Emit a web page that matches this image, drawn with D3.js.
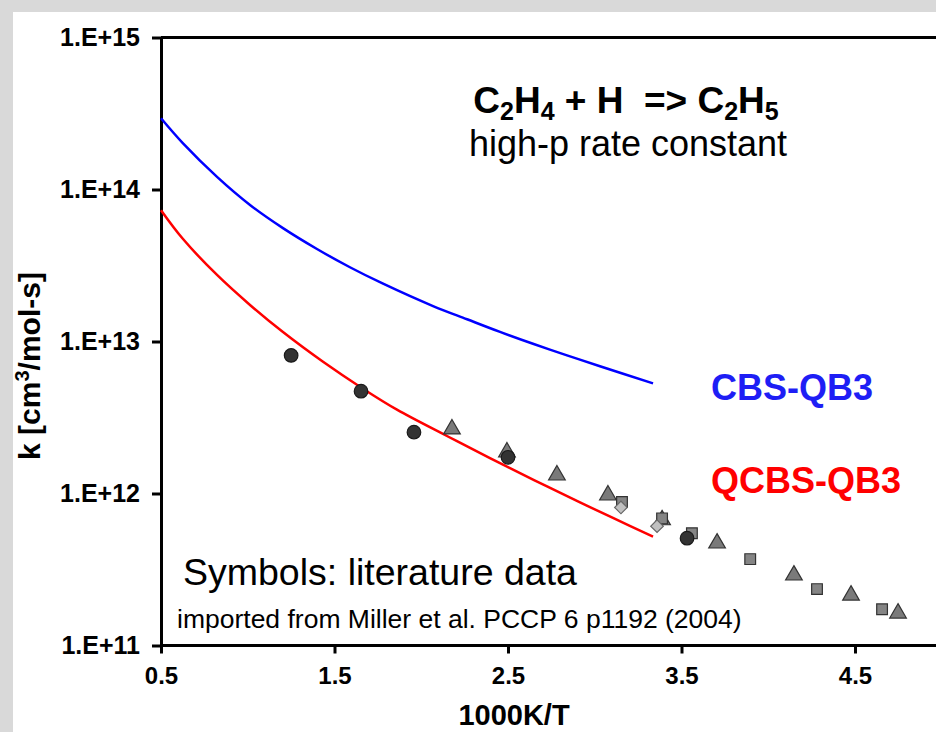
<!DOCTYPE html>
<html><head><meta charset="utf-8">
<script src="https://cdn.jsdelivr.net/npm/d3@7"></script>
<style>
html,body{margin:0;padding:0;background:#d9d9d9;}
svg{display:block;font-family:"Liberation Sans",Arial,Helvetica,sans-serif;}
</style></head>
<body>
<svg id="chart" width="936" height="732"></svg>
<script>
// ---- data ----
const cbsX = [0.5, 0.627, 0.823, 1.013, 1.203, 1.399, 1.589, 1.780, 2.068, 2.264, 2.454, 2.644, 2.840, 3.030, 3.336];
const cbsK = [2.94e14, 2.01e14, 1.21e14, 7.91e13, 5.57e13, 4.06e13, 3.08e13, 2.40e13, 1.71e13, 1.40e13, 1.156e13, 9.66e12, 8.11e12, 6.87e12, 5.30e12];
const qcbsX = [0.5, 0.627, 0.823, 1.013, 1.203, 1.434, 1.664, 1.860, 2.148, 2.396, 2.529, 2.725, 2.915, 3.105, 3.336];
const qcbsK = [7.31e13, 4.72e13, 2.74e13, 1.74e13, 1.153e13, 7.35e12, 4.89e12, 3.56e12, 2.39e12, 1.71e12, 1.435e12, 1.114e12, 8.75e11, 6.90e11, 5.21e11];
const circX = [1.25, 1.653, 1.958, 2.50, 3.532];
const circK = [8.1e12, 4.71e12, 2.53e12, 1.73e12, 5.08e11];
const triX = [2.177, 2.494, 2.782, 3.076, 3.388, 3.705, 4.148, 4.477, 4.748];
const triK = [2.65e12, 1.87e12, 1.32e12, 9.75e11, 6.7e11, 4.71e11, 2.9e11, 2.14e11, 1.63e11];
const sqX = [3.157, 3.388, 3.560, 3.896, 4.281, 4.656];
const sqK = [8.8e11, 6.86e11, 5.48e11, 3.70e11, 2.35e11, 1.73e11];
const diaX = [3.151, 3.359];
const diaK = [8.1e11, 6.1e11];
const xTickValues = [0.5, 1.5, 2.5, 3.5, 4.5];
const xTickLabels = ["0.5", "1.5", "2.5", "3.5", "4.5"];
const yTickValues = [1e11, 1e12, 1e13, 1e14, 1e15];
const yTickLabels = ["1.E+11", "1.E+12", "1.E+13", "1.E+14", "1.E+15"];

const svg = d3.select("#chart");
const FONT = '"Liberation Sans",Arial,Helvetica,sans-serif';

svg.append("rect").attr("x", 13).attr("y", 12).attr("width", 936).attr("height", 732).attr("fill", "#fff");

const x = d3.scaleLinear().domain([0.5, 5.0]).range([161, 161 + 4.5 * 173.5]);
const y = d3.scaleLog().domain([1e11, 1e15]).range([645.5, 37.5]);

// frame top line
svg.append("line").attr("x1", x(0.5)).attr("x2", 936).attr("y1", y(1e15)).attr("y2", y(1e15))
  .attr("stroke", "#000").attr("stroke-width", 3);

// x axis
const gx = svg.append("g").attr("transform", `translate(0,${y(1e11)})`)
  .call(d3.axisBottom(x).tickValues(xTickValues).tickFormat((d, i) => xTickLabels[i]).tickSize(8).tickSizeOuter(0).tickPadding(13));
gx.select(".domain").attr("stroke-width", 3).attr("d", `M${x(0.5)},0H940`);
gx.selectAll(".tick line").attr("stroke-width", 3);
gx.selectAll(".tick text").attr("font-family", FONT).attr("font-size", 24).attr("font-weight", "bold").attr("fill", "#000");

// y axis
const gy = svg.append("g").attr("transform", `translate(${x(0.5)},0)`)
  .call(d3.axisLeft(y).tickValues(yTickValues).tickFormat((d, i) => yTickLabels[i]).tickSize(9).tickSizeOuter(0).tickPadding(12));
gy.select(".domain").attr("stroke-width", 3);
gy.selectAll(".tick line").attr("stroke-width", 3);
gy.selectAll(".tick text").attr("font-family", FONT).attr("font-size", 25).attr("font-weight", "bold").attr("fill", "#000");

// curves
const line = d3.line().x(d => x(d[0])).y(d => y(d[1])).curve(d3.curveCatmullRom.alpha(0.5));
svg.append("path").datum(cbsX.map((v, i) => [v, cbsK[i]])).attr("d", line)
  .attr("fill", "none").attr("stroke", "#0000ff").attr("stroke-width", 2.5);
svg.append("path").datum(qcbsX.map((v, i) => [v, qcbsK[i]])).attr("d", line)
  .attr("fill", "none").attr("stroke", "#ff0000").attr("stroke-width", 2.5);

// symbols
function drawSym(xs, ks, type, size, fill, stroke, rot) {
  svg.append("g").selectAll("path").data(xs.map((v, i) => [v, ks[i]])).join("path")
    .attr("transform", d => `translate(${x(d[0])},${y(d[1])}) rotate(${rot || 0})`)
    .attr("d", d3.symbol().type(type).size(size))
    .attr("fill", fill).attr("stroke", stroke).attr("stroke-width", 1.2);
}
drawSym(triX, triK, d3.symbolTriangle, 120, "#7a7a7a", "#333");
drawSym(sqX, sqK, d3.symbolSquare, 115, "#858585", "#333");
drawSym(diaX, diaK, d3.symbolSquare, 80, "#c0c0c0", "#666", 45);
drawSym(circX, circK, d3.symbolCircle, 145, "#333", "#1a1a1a");

// title
const t = svg.append("text").attr("x", 626).attr("y", 113).attr("text-anchor", "middle")
  .attr("font-family", FONT).attr("font-size", 37).attr("font-weight", "bold").attr("fill", "#000");
const parts = [["C", 0], ["2", 1], ["H", 0], ["4", 1], [" + H \u00a0=> C", 0], ["2", 1], ["H", 0], ["5", 1]];
let prevSub = false;
parts.forEach(([s, sub]) => {
  const ts = t.append("tspan").text(s);
  if (sub) { ts.attr("font-size", 25).attr("dy", prevSub ? 0 : 7); }
  else { ts.attr("dy", prevSub ? -7 : 0); }
  prevSub = !!sub;
});
svg.append("text").attr("x", 628).attr("y", 156).attr("text-anchor", "middle")
  .attr("font-family", FONT).attr("font-size", 36).attr("fill", "#000").text("high-p rate constant");

// series labels
svg.append("text").attr("x", 711).attr("y", 400).attr("font-family", FONT).attr("font-size", 36)
  .attr("font-weight", "bold").attr("fill", "#1e1ef5").text("CBS-QB3");
svg.append("text").attr("x", 711).attr("y", 493).attr("font-family", FONT).attr("font-size", 36)
  .attr("font-weight", "bold").attr("fill", "#ff0000").text("QCBS-QB3");

// notes
svg.append("text").attr("x", 183).attr("y", 585).attr("font-family", FONT).attr("font-size", 37.5)
  .attr("fill", "#000").text("Symbols: literature data");
svg.append("text").attr("x", 177).attr("y", 628).attr("font-family", FONT).attr("font-size", 26.5)
  .attr("fill", "#000").text("imported from Miller et al. PCCP 6 p1192 (2004)");

// axis titles
svg.append("text").attr("x", 514).attr("y", 725).attr("text-anchor", "middle").attr("font-family", FONT)
  .attr("font-size", 29).attr("font-weight", "bold").attr("fill", "#000").text("1000K/T");
const yl = svg.append("text").attr("transform", "translate(40,366) rotate(-90)").attr("text-anchor", "middle")
  .attr("font-family", FONT).attr("font-size", 30).attr("font-weight", "bold").attr("fill", "#000");
yl.append("tspan").text("k [cm");
yl.append("tspan").text("3").attr("font-size", 20).attr("dy", -11);
yl.append("tspan").text("/mol-s]").attr("dy", 11);
</script>
</body></html>
